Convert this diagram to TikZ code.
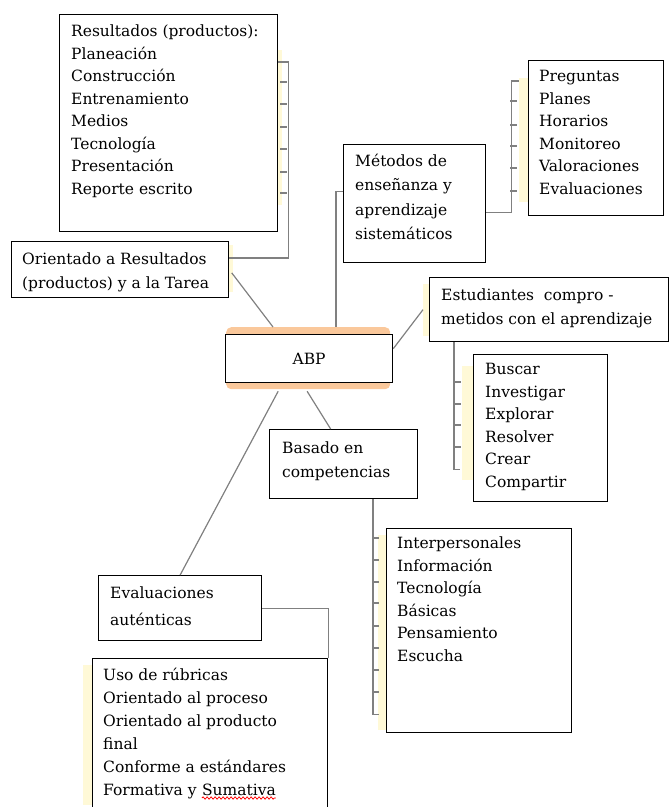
\documentclass[tikz,border=0pt]{standalone}
\usepackage{fontspec}
\setmainfont{DejaVu Serif}
\usepackage{tikz}
\usetikzlibrary{calc,positioning,decorations.pathmorphing}
\tikzset{>=latex}

\begin{document}
\begin{tikzpicture}[x=1pt,y=-1pt,
  box/.style={draw=black,line width=1.3pt,fill=white,inner sep=0pt,anchor=north west},
  txt/.style={inner sep=0pt,anchor=north west,align=left,font=\fontsize{15.5}{22.5}\selectfont},
  txtb/.style={txt,font=\fontsize{15.5}{24.5}\selectfont},
  link/.style={draw=black!50,line width=1.2pt},
  hl/.style={fill={rgb,255:red,255;green,249;blue,215},draw=none}]
  \useasboundingbox (0,0) rectangle (670,807);

  % pale strips beside the lists
  \fill[hl] (277,50) rectangle (282,205);
  \fill[hl] (228,245) rectangle (233,292);
  \fill[hl] (519,78) rectangle (528,202);
  \fill[hl] (423,284) rectangle (429,336);
  \fill[hl] (462,366) rectangle (473,480);
  \fill[hl] (378,535) rectangle (386,730);
  \fill[hl] (83,665) rectangle (92,805);

  % boxes
  \node[fill={rgb,255:red,250;green,200;blue,155},rounded corners=5pt,inner sep=0pt,anchor=north west,
        minimum width=164pt,minimum height=62pt] (abpglow) at (226,327) {};
  \node[box,minimum width=167pt,minimum height=48pt,anchor=north west,font=\fontsize{15.5}{22.5}\selectfont] (abp) at (225,334) {ABP};
  \node[box,minimum width=218pt,minimum height=217pt] (res) at (59,14) {};
  \node[box,minimum width=217pt,minimum height=56pt] (orient) at (11,241) {};
  \node[box,minimum width=142pt,minimum height=118pt] (met) at (343,144) {};
  \node[box,minimum width=135pt,minimum height=155pt] (preg) at (528,60) {};
  \node[box,minimum width=239pt,minimum height=64pt] (est) at (429,277) {};
  \node[box,minimum width=134pt,minimum height=147pt] (busc) at (473,354) {};
  \node[box,minimum width=148pt,minimum height=69pt] (bas) at (269,429) {};
  \node[box,minimum width=185pt,minimum height=204pt] (inter) at (386,528) {};
  \node[box,minimum width=163pt,minimum height=65pt] (eva) at (98,575) {};
  \node[box,minimum width=235pt,minimum height=160pt] (uso) at (92,658) {};

  % texts
  \node[txt] (resT) at (71,21) {\strut Resultados (productos):\\Planeación\\Construcción\\Entrenamiento\\Medios\\Tecnología\\Presentación\\Reporte escrito};
  \node[txtb] (orientT) at (22,247) {\strut Orientado a Resultados\\(productos) y a la Tarea};
  \node[txtb] (metT) at (355,149) {\strut Métodos de\\enseñanza y\\aprendizaje\\sistemáticos};
  \node[txt] (pregT) at (539,66) {\strut Preguntas\\Planes\\Horarios\\Monitoreo\\Valoraciones\\Evaluaciones};
  \node[txtb] (estT) at (441,283) {\strut Estudiantes\ \ compro -\\metidos con el aprendizaje};
  \node[txt] (buscT) at (485,359) {\strut Buscar\\Investigar\\Explorar\\Resolver\\Crear\\Compartir};
  \node[txtb] (basT) at (282,436) {\strut Basado en\\competencias};
  \node[txt] (interT) at (397,533) {\strut Interpersonales\\Información\\Tecnología\\Básicas\\Pensamiento\\Escucha};
  \node[txt,font=\fontsize{15.5}{27}\selectfont] (evaT) at (110,579) {\strut Evaluaciones\\auténticas};
  \node[txt,font=\fontsize{15.5}{23}\selectfont] (usoT) at (103,664) {\strut Uso de rúbricas\\Orientado al proceso\\Orientado al producto\\final\\Conforme a estándares};
  \node[txt,anchor=base west] (formT) at (103,795) {Formativa y};
  \node[txt,anchor=base west] (sumT) at ([xshift=5pt]formT.base east) {Sumativa};
  \draw[red,line width=0.8pt,decorate,decoration={snake,amplitude=1.1pt,segment length=4pt}]
    ([yshift=-3pt]sumT.base west) -- ([yshift=-3pt]sumT.base east);

  % connectors
  \draw[link,shorten <=4pt] (orient.east) -- ([xshift=48pt,yshift=7pt]abp.north west);
  \draw[link] ([yshift=12pt]met.west) -- ++(-7,0) -- ([xshift=110pt]abpglow.north west);
  \draw[link] ([yshift=10pt]abp.east) -- ([xshift=-6pt]est.west);
  \draw[link] ([xshift=-2pt,yshift=-8pt]abp.south) -- ([xshift=-13pt]bas.north);
  \draw[link] ([xshift=-31pt,yshift=-8pt]abp.south) -- (eva.north);

  % brackets
  \draw[link] ([yshift=-48pt]res.north east) -- ++(10,0) |- ([yshift=-17pt]orient.north east);
  \foreach \y in {82,104,127,149,172,193} \draw[link] (280,\y) -- ++(7,0);
  \draw[link] ([yshift=-9pt]met.east) -- ++(25,0) |- ([xshift=-9pt,yshift=-21pt]preg.north west);
  \foreach \y in {101,125,146,168,191} \draw[link] (510,\y) -- ++(7,0);
  \draw[link] ([xshift=25pt]est.south west) -- ++(0,127) -- ++(6,0);
  \foreach \y in {382,404,425,447} \draw[link] (454,\y) -- ++(7,0);
  \draw[link] ([xshift=104pt]bas.south west) -- ++(0,215) -- ++(6,0);
  \foreach \y in {538,560,582,603,626,648,670,692} \draw[link] (373,\y) -- ++(6,0);
  \draw[link] (eva.east) -| (uso.north east);
\end{tikzpicture}
\end{document}
